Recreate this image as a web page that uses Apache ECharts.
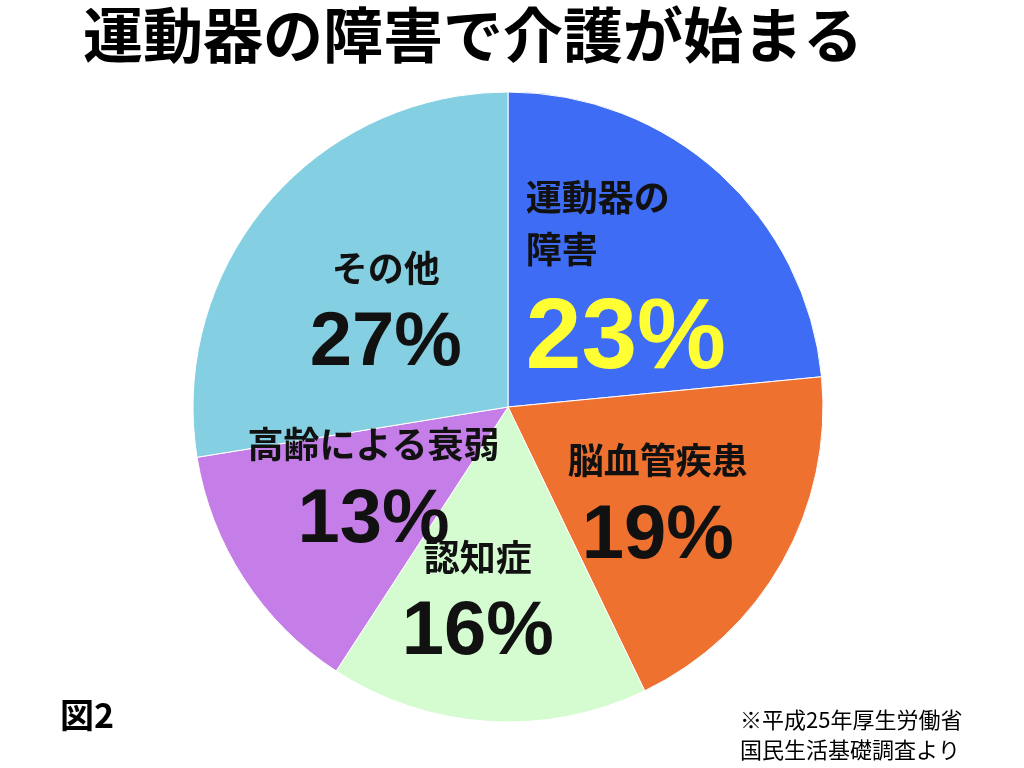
<!DOCTYPE html>
<html><head><meta charset="utf-8">
<script src="https://cdn.jsdelivr.net/npm/echarts@6/dist/echarts.min.js"></script>
<style>html,body{margin:0;background:#fff}#c{width:1024px;height:768px}</style>
</head><body><div id="c"></div>
<script>
const categories=['運動器の\n障害','脳血管疾患','認知症','高齢による衰弱','その他'];
const values=[23,19,16,13,27];
const colors=['#3F6CF5','#EE7130','#D5FBD0','#C57EE8','#84CFE1'];
const pctColors=['#FFFF33','#111','#111','#111','#111'];
const offs=[[10,0],[10,25],[-20,40],[0,0],[0,15]];
const chart=echarts.init(document.getElementById('c'));
const F='"Noto Sans CJK JP",sans-serif';
chart.setOption({
 title:{text:'運動器の障害で介護が始まる',left:78,top:0,textStyle:{fontFamily:F,fontSize:60,fontWeight:'bold',color:'#000'}},
 graphic:[
  {type:'text',left:60,top:698,style:{text:'図2',font:'bold 34px "Noto Sans CJK JP"',fill:'#000'}},
  {type:'text',left:740,top:705,style:{text:'※平成25年厚生労働省\n国民生活基礎調査より',font:'22px "Noto Sans CJK JP"',lineHeight:30,fill:'#000'}}
 ],
 series:[{type:'pie',center:[508,407],radius:[0,315],startAngle:90,clockwise:true,
  label:{show:true,position:'inside'},labelLine:{show:false},
  labelLayout:{hideOverlap:false},
  itemStyle:{borderColor:'#fff',borderWidth:1},
  emphasis:{disabled:true},
  data:values.map((v,i)=>({value:v,name:categories[i],itemStyle:{color:colors[i]},
   label:{offset:offs[i],align:i==0?'left':'center',overflow:'none',
    formatter:'{n|{b}}\n{p|{c}%}',
    rich:{n:{fontFamily:F,fontSize:36,fontWeight:'bold',color:'#111',lineHeight:52,align:i==0?'left':'center'},
     p:{fontFamily:'"Liberation Sans",sans-serif',fontSize:i==0?100:76,fontWeight:'bold',color:pctColors[i],lineHeight:i==0?130:100,align:'center'}}}}))
 }]
});
</script></body></html>
